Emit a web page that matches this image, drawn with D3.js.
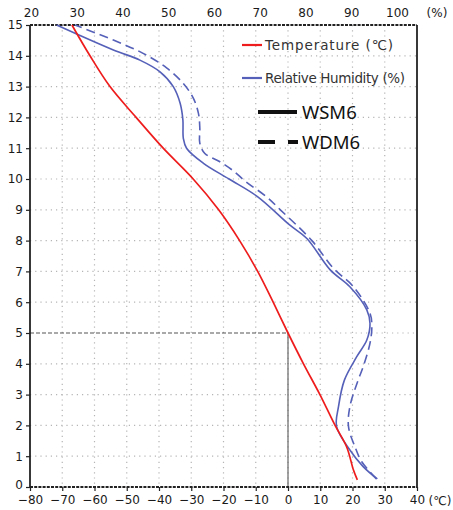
<!DOCTYPE html>
<html>
<head>
<meta charset="utf-8">
<script src="https://cdn.jsdelivr.net/npm/d3@7"></script>
<style>
  html, body { margin: 0; padding: 0; background: #fff; }
  svg { display: block; }
  .tick-label { font-family: "DejaVu Sans", sans-serif; font-size: 12px; fill: #1a1a1a; }
</style>
</head>
<body>
<svg id="chart" width="453" height="510"></svg>
<script>
// Vertical profiles: height (km) against temperature (°C) and relative humidity (%)
const tempHeights = [0.23, 0.55, 1.3, 2, 3, 4, 5, 6, 7, 8, 9, 10, 11, 12, 13, 14, 15];
const tempValues  = [21.5, 20.3, 18.2, 14.6, 9.9, 4.8, 0, -4.6, -9.4, -15.0, -21.5, -29.4, -38.7, -47.1, -55.2, -61.4, -67.0];

const rhWsm6Heights = [0.26, 0.66, 1.2, 1.96, 2.6, 3.47, 4.23, 4.77, 5.31, 5.75, 6.5, 7.05, 8.07, 8.5, 9.43, 10.0, 10.51, 11.0, 11.32, 11.92, 12.46, 13.0, 13.48, 13.86, 14.19, 15];
const rhWsm6Values  = [95.7, 92.6, 89.7, 86.8, 87.2, 88.5, 91.2, 93.4, 94.1, 93.4, 89.7, 85.4, 80.3, 76.6, 69.5, 63.3, 57.7, 54.0, 53.3, 53.2, 52.6, 51.1, 48.2, 43.8, 38.0, 25.6];

const rhWdm6Heights = [0.26, 0.82, 1.31, 1.96, 2.61, 3.47, 3.9, 4.67, 5.2, 5.64, 6.5, 7.1, 8.0, 9.0, 9.43, 9.91, 10.29, 10.56, 10.83, 11.16, 11.65, 12.13, 12.62, 13.1, 13.6, 14.08, 14.51, 15];
const rhWdm6Values  = [95.5, 92.3, 90.8, 89.4, 89.7, 91.5, 92.6, 94.1, 94.5, 94.1, 90.5, 86.1, 81.4, 74.5, 71.4, 67.0, 64.0, 61.3, 58.0, 56.9, 56.9, 56.6, 55.5, 53.3, 49.7, 44.5, 38.0, 29.6];

const heightTicks = [0, 1, 2, 3, 4, 5, 6, 7, 8, 9, 10, 11, 12, 13, 14, 15];
const tempTicks   = [-80, -70, -60, -50, -40, -30, -20, -10, 0, 10, 20, 30, 40];
const rhTicks     = [20, 30, 40, 50, 60, 70, 80, 90, 100];
const freezingLevel = 5;

const svg = d3.select("#chart");

const x = d3.scaleLinear().domain([-80, 40]).range([30, 417]);
const xRh = d3.scaleLinear().domain([20, 100]).range([31, 397]);
const y = d3.scaleLinear().domain([0, 15]).range([487, 25]);

// dotted grid
const grid = svg.append("g").attr("stroke", "#b5b5b5").attr("stroke-width", 1.2)
  .attr("stroke-dasharray", "1.2,4");
tempTicks.slice(1, -1).forEach(t => {
  grid.append("line").attr("x1", x(t)).attr("x2", x(t)).attr("y1", y(15)).attr("y2", y(0));
});
heightTicks.slice(1, -1).forEach(h => {
  const x0 = h === freezingLevel ? x(0) : x(-80);
  grid.append("line").attr("x1", x0).attr("x2", x(40)).attr("y1", y(h)).attr("y2", y(h));
});

// freezing level guide
svg.append("line").attr("x1", x(-80)).attr("x2", x(0)).attr("y1", y(freezingLevel)).attr("y2", y(freezingLevel))
  .attr("stroke", "#555").attr("stroke-width", 1.2).attr("stroke-dasharray", "4,2");
svg.append("line").attr("x1", x(0)).attr("x2", x(0)).attr("y1", y(freezingLevel)).attr("y2", y(0))
  .attr("stroke", "#666").attr("stroke-width", 1.2);

// left axis
const yAxis = d3.axisLeft(y).tickValues(heightTicks).tickSize(4).tickPadding(3).tickFormat(d3.format("d"));
const gy = svg.append("g").attr("transform", `translate(${x(-80)},0)`).call(yAxis);
gy.select(".domain").remove();
gy.selectAll(".tick line").attr("stroke", "#222").attr("stroke-width", 1.2);
gy.selectAll(".tick text").attr("class", "tick-label").attr("font-size", null).attr("font-family", null)
  .attr("dy", d => d === 0 ? "0.1em" : "0.32em");

// bottom axis
const xAxis = d3.axisBottom(x).tickValues(tempTicks).tickSize(4).tickPadding(4).tickFormat(d3.format("d"));
const gx = svg.append("g").attr("transform", `translate(0,${y(0)})`).call(xAxis);
gx.select(".domain").remove();
gx.selectAll(".tick line").attr("stroke", "#222").attr("stroke-width", 1.2);
gx.selectAll(".tick text").attr("class", "tick-label").attr("font-size", null).attr("font-family", null)
  .text(d => d < 0 ? "\u2212" + Math.abs(d) : d);

// top axis (relative humidity)
const xTop = d3.axisTop(xRh).tickValues(rhTicks).tickSize(0).tickPadding(8).tickFormat(d3.format("d"));
const gt = svg.append("g").attr("transform", `translate(0,${y(15)})`).call(xTop);
gt.select(".domain").remove();
gt.selectAll(".tick text").attr("class", "tick-label").attr("font-size", null).attr("font-family", null);

svg.append("text").attr("class", "tick-label").attr("x", 437).attr("y", 17).attr("text-anchor", "middle").text("(%)");
svg.append("text").attr("class", "tick-label").attr("x", 440).attr("y", 505).attr("text-anchor", "middle").text("(\u2103)");

// frame
const frame = svg.append("g").attr("fill", "none");
frame.append("line").attr("x1", x(-80)).attr("x2", x(-80)).attr("y1", y(15)).attr("y2", y(0) + 1)
  .attr("stroke", "#222").attr("stroke-width", 1.8);
frame.append("line").attr("x1", x(40)).attr("x2", x(40)).attr("y1", y(15)).attr("y2", y(0) + 1)
  .attr("stroke", "#222").attr("stroke-width", 1.8);
[15, 0].forEach(h => {
  frame.append("line").attr("x1", x(-80)).attr("x2", x(40)).attr("y1", y(h)).attr("y2", y(h))
    .attr("stroke", "#222").attr("stroke-width", 1.8).attr("stroke-dasharray", "3,1.2");
});

// profiles
const tempLine = d3.line().x(d => x(d[1])).y(d => y(d[0])).curve(d3.curveCatmullRom);
const rhLine = d3.line().x(d => xRh(d[1])).y(d => y(d[0])).curve(d3.curveCatmullRom);

svg.append("path").datum(d3.zip(rhWdm6Heights, rhWdm6Values)).attr("d", rhLine)
  .attr("fill", "none").attr("stroke", "#5560b8").attr("stroke-width", 1.6).attr("stroke-dasharray", "9,5");
svg.append("path").datum(d3.zip(rhWsm6Heights, rhWsm6Values)).attr("d", rhLine)
  .attr("fill", "none").attr("stroke", "#5560b8").attr("stroke-width", 1.6);
svg.append("path").datum(d3.zip(tempHeights, tempValues)).attr("d", tempLine)
  .attr("fill", "none").attr("stroke", "#ee1c1c").attr("stroke-width", 1.7);

// legend
const legend = svg.append("g");
legend.append("line").attr("x1", 242).attr("x2", 262).attr("y1", 45).attr("y2", 45)
  .attr("stroke", "#ee1c1c").attr("stroke-width", 2.2);
legend.append("text").attr("x", 265).attr("y", 50).attr("font-family", "DejaVu Sans, sans-serif")
  .attr("font-size", 13.5).attr("fill", "#333").attr("textLength", 128).text("Temperature (\u2103)");
legend.append("line").attr("x1", 242).attr("x2", 262).attr("y1", 78).attr("y2", 78)
  .attr("stroke", "#5560b8").attr("stroke-width", 2.2);
legend.append("text").attr("x", 265).attr("y", 83).attr("font-family", "DejaVu Sans, sans-serif")
  .attr("font-size", 13.5).attr("fill", "#333").attr("textLength", 140).text("Relative Humidity (%)");
legend.append("line").attr("x1", 258).attr("x2", 297).attr("y1", 112).attr("y2", 112)
  .attr("stroke", "#111").attr("stroke-width", 4);
legend.append("text").attr("x", 302).attr("y", 119).attr("font-family", "Noto Sans, sans-serif")
  .attr("font-size", 18.5).attr("fill", "#111").text("WSM6");
legend.append("line").attr("x1", 258).attr("x2", 298).attr("y1", 142).attr("y2", 142)
  .attr("stroke", "#111").attr("stroke-width", 4).attr("stroke-dasharray", "17,13,10");
legend.append("text").attr("x", 302).attr("y", 149).attr("font-family", "Noto Sans, sans-serif")
  .attr("font-size", 18.5).attr("fill", "#111").text("WDM6");
</script>
</body>
</html>
